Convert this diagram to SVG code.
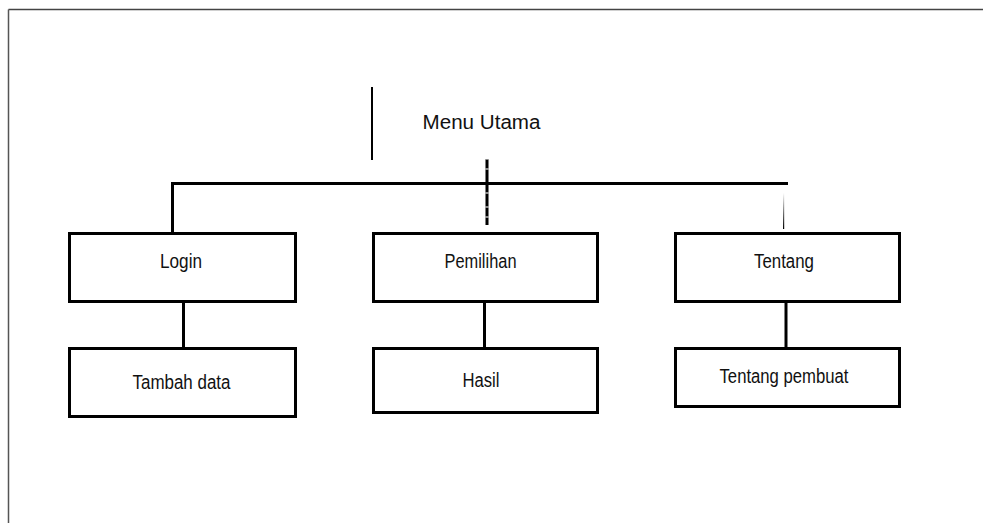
<svg xmlns="http://www.w3.org/2000/svg" width="983" height="523" viewBox="0 0 983 523">
  <style>
    .box { fill: #ffffff; stroke: #000000; stroke-width: 3; }
    .lbl { font-family: "Liberation Sans", Arial, sans-serif; font-size: 20px; fill: #111111; text-anchor: middle; }
    .link { stroke: #000000; stroke-width: 3; fill: none; }
  </style>
  <defs>
    <linearGradient id="fade" x1="0" y1="0" x2="0" y2="1">
      <stop offset="0" stop-color="#ffffff"/>
      <stop offset="1" stop-color="#000000"/>
    </linearGradient>
  </defs>
  <rect width="983" height="523" fill="#ffffff"/>

  <!-- page frame -->
  <g id="frame">
    <line x1="8.5" y1="9.5" x2="983" y2="9.5" stroke="#444" stroke-width="1.5"/>
    <line x1="8.5" y1="9.5" x2="8.5" y2="523" stroke="#555" stroke-width="1.5"/>
  </g>

  <!-- connectors -->
  <g id="connectors">
    <line x1="372" y1="87" x2="372" y2="160" stroke="#000" stroke-width="2"/>
    <line x1="487" y1="159" x2="487" y2="225" stroke="#888" stroke-width="3.5"/>
    <line x1="487" y1="160" x2="487" y2="225" stroke="#000" stroke-width="2.5" stroke-dasharray="8 2 12 2"/>
    <polyline class="link" points="172.5,232 172.5,183.5 788,183.5"/>
    <rect x="783" y="193" width="1.2" height="36" fill="url(#fade)"/>
    <line class="link" x1="183.5" y1="302" x2="183.5" y2="347"/>
    <line class="link" x1="484.5" y1="302" x2="484.5" y2="347"/>
    <line class="link" x1="786" y1="302" x2="786" y2="347"/>
  </g>

  <g id="menu-utama">
    <text class="lbl" x="481.5" y="129" font-size="21" textLength="118" lengthAdjust="spacingAndGlyphs">Menu Utama</text>
  </g>

  <g id="login">
    <rect class="box" x="69.5" y="233.5" width="226" height="68"/>
    <text class="lbl" x="181" y="268" textLength="42" lengthAdjust="spacingAndGlyphs">Login</text>
  </g>
  <g id="pemilihan">
    <rect class="box" x="373.5" y="233.5" width="224" height="68"/>
    <text class="lbl" x="480.5" y="268" textLength="72" lengthAdjust="spacingAndGlyphs">Pemilihan</text>
  </g>
  <g id="tentang">
    <rect class="box" x="675.5" y="233.5" width="224" height="68"/>
    <text class="lbl" x="784" y="268" textLength="60" lengthAdjust="spacingAndGlyphs">Tentang</text>
  </g>

  <g id="tambah-data">
    <rect class="box" x="69.5" y="348.5" width="226" height="68"/>
    <text class="lbl" x="181.5" y="389" textLength="98" lengthAdjust="spacingAndGlyphs">Tambah data</text>
  </g>
  <g id="hasil">
    <rect class="box" x="373.5" y="348.5" width="224" height="64"/>
    <text class="lbl" x="481" y="387" textLength="37" lengthAdjust="spacingAndGlyphs">Hasil</text>
  </g>
  <g id="tentang-pembuat">
    <rect class="box" x="675.5" y="348.5" width="224" height="58"/>
    <text class="lbl" x="784" y="383" textLength="129" lengthAdjust="spacingAndGlyphs">Tentang pembuat</text>
  </g>
</svg>
